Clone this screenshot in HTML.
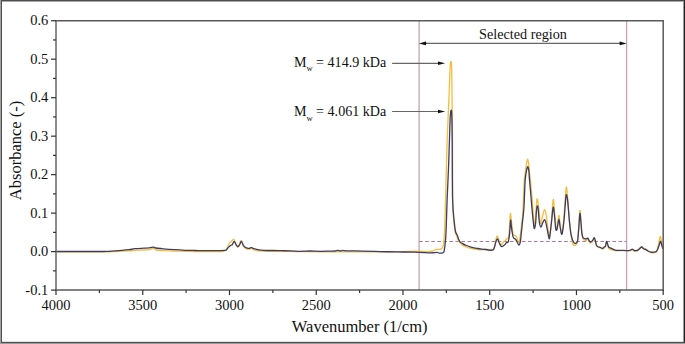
<!DOCTYPE html>
<html><head><meta charset="utf-8"><style>
html,body{margin:0;padding:0;background:#fff;}
body{width:685px;height:344px;overflow:hidden;}
svg{display:block;}
text{font-family:"Liberation Serif",serif;fill:#111;}
</style></head><body>
<svg width="685" height="344" viewBox="0 0 685 344">
<rect x="0" y="0" width="685" height="344" fill="#fff"/>
<!-- outer border -->
<rect x="0" y="0" width="685" height="1" fill="#4c4c4c"/>
<rect x="2" y="1" width="681" height="1" fill="#a8a8a8"/>
<rect x="0" y="0" width="1" height="344" fill="#a0a0a0"/>
<rect x="1" y="0" width="1" height="343" fill="#505050"/>
<rect x="683" y="1" width="1" height="341" fill="#9a9a9a"/>
<rect x="684" y="0" width="1" height="343" fill="#222"/>
<rect x="2" y="341" width="681" height="1" fill="#e0e0e0"/>
<rect x="1" y="342" width="684" height="1" fill="#505050"/>
<rect x="0" y="343" width="685" height="1" fill="#9a9a9a"/>
<!-- selected region verticals -->
<g stroke="#c9a0b4" stroke-width="1.3">
<line x1="419.1" y1="20.7" x2="419.1" y2="290.1"/>
<line x1="626.6" y1="20.7" x2="626.6" y2="290.1"/>
</g>
<line x1="419.2" y1="241.5" x2="626.6" y2="241.5" stroke="#ad6f8e" stroke-width="0.95" stroke-dasharray="3.6 2.44"/>
<!-- curves -->
<path d="M56.00,251.80 C63.33,251.82 90.23,251.92 100.00,251.90 C109.77,251.88 109.73,251.88 114.60,251.70 C119.47,251.52 125.80,251.03 129.20,250.80 C132.60,250.57 132.57,250.43 135.00,250.30 C137.43,250.17 141.40,250.10 143.80,250.00 C146.20,249.90 147.73,249.98 149.40,249.70 C151.07,249.42 152.70,248.25 153.80,248.30 C154.90,248.35 154.43,249.62 156.00,250.00 C157.57,250.38 160.17,250.42 163.20,250.60 C166.23,250.78 168.90,250.95 174.20,251.10 C179.50,251.25 188.12,251.43 195.00,251.50 C201.88,251.57 210.50,251.58 215.50,251.50 C220.50,251.42 222.92,251.92 225.00,251.00 C227.08,250.08 227.20,247.38 228.00,246.00 C228.80,244.62 229.20,243.48 229.80,242.70 C230.40,241.92 230.95,241.87 231.60,241.30 C232.25,240.73 233.05,239.10 233.70,239.30 C234.35,239.50 234.85,241.15 235.50,242.50 C236.15,243.85 236.93,247.15 237.60,247.40 C238.27,247.65 238.93,245.17 239.50,244.00 C240.07,242.83 240.50,240.48 241.00,240.40 C241.50,240.32 242.02,242.43 242.50,243.50 C242.98,244.57 243.32,245.95 243.90,246.80 C244.48,247.65 245.07,248.22 246.00,248.60 C246.93,248.98 248.62,249.15 249.50,249.10 C250.38,249.05 250.52,248.15 251.30,248.30 C252.08,248.45 253.03,249.57 254.20,250.00 C255.37,250.43 255.33,250.68 258.30,250.90 C261.27,251.12 265.05,251.17 272.00,251.30 C278.95,251.43 288.67,251.62 300.00,251.70 C311.33,251.78 326.67,251.77 340.00,251.80 C353.33,251.83 370.00,251.90 380.00,251.90 C390.00,251.90 394.73,251.90 400.00,251.80 C405.27,251.70 408.32,251.38 411.60,251.30 C414.88,251.22 416.98,251.23 419.70,251.30 C422.42,251.37 425.67,251.78 427.90,251.70 C430.13,251.62 431.72,251.18 433.10,250.80 C434.48,250.42 435.07,249.65 436.20,249.40 C437.33,249.15 438.93,249.50 439.90,249.30 C440.87,249.10 441.48,248.77 442.00,248.20 C442.52,247.63 442.70,246.90 443.00,245.90 C443.30,244.90 443.60,243.52 443.80,242.20 C444.00,240.88 444.03,240.87 444.20,238.00 C444.37,235.13 444.57,231.33 444.80,225.00 C445.03,218.67 445.35,209.17 445.60,200.00 C445.85,190.83 446.03,180.00 446.30,170.00 C446.57,160.00 446.88,149.17 447.20,140.00 C447.52,130.83 447.88,122.50 448.20,115.00 C448.52,107.50 448.83,101.67 449.10,95.00 C449.37,88.33 449.58,80.33 449.80,75.00 C450.02,69.67 450.22,65.15 450.40,63.00 C450.58,60.85 450.73,62.10 450.90,62.10 C451.07,62.10 451.25,60.85 451.40,63.00 C451.55,65.15 451.68,68.83 451.80,75.00 C451.92,81.17 452.00,90.83 452.10,100.00 C452.20,109.17 452.32,118.33 452.40,130.00 C452.48,141.67 452.57,158.67 452.60,170.00 C452.63,181.33 452.52,191.00 452.60,198.00 C452.68,205.00 452.82,207.33 453.10,212.00 C453.38,216.67 453.93,222.50 454.30,226.00 C454.67,229.50 454.92,231.43 455.30,233.00 C455.68,234.57 456.15,234.27 456.60,235.40 C457.05,236.53 457.43,238.57 458.00,239.80 C458.57,241.03 459.23,241.92 460.00,242.80 C460.77,243.68 461.55,244.40 462.60,245.10 C463.65,245.80 465.05,246.48 466.30,247.00 C467.55,247.52 468.20,247.75 470.10,248.20 C472.00,248.65 475.80,249.43 477.70,249.70 C479.60,249.97 480.23,249.88 481.50,249.80 C482.77,249.72 484.05,249.20 485.30,249.20 C486.55,249.20 487.75,249.72 489.00,249.80 C490.25,249.88 491.97,250.00 492.80,249.70 C493.63,249.40 493.62,249.02 494.00,248.00 C494.38,246.98 494.60,245.57 495.10,243.60 C495.60,241.63 496.43,236.95 497.00,236.20 C497.57,235.45 498.00,237.87 498.50,239.10 C499.00,240.33 499.50,242.72 500.00,243.60 C500.50,244.48 500.83,244.75 501.50,244.40 C502.17,244.05 503.15,242.37 504.00,241.50 C504.85,240.63 505.80,240.07 506.60,239.20 C507.40,238.33 508.30,238.67 508.80,236.30 C509.30,233.93 509.33,228.80 509.60,225.00 C509.87,221.20 510.10,214.17 510.40,213.50 C510.70,212.83 510.93,217.57 511.40,221.00 C511.87,224.43 512.55,231.68 513.20,234.10 C513.85,236.52 514.70,234.90 515.30,235.50 C515.90,236.10 516.23,236.57 516.80,237.70 C517.37,238.83 518.10,242.75 518.70,242.30 C519.30,241.85 519.92,238.05 520.40,235.00 C520.88,231.95 521.22,227.42 521.60,224.00 C521.98,220.58 522.45,217.17 522.70,214.50 C522.95,211.83 522.95,211.25 523.10,208.00 C523.25,204.75 523.40,199.67 523.60,195.00 C523.80,190.33 524.00,183.92 524.30,180.00 C524.60,176.08 525.02,174.33 525.40,171.50 C525.78,168.67 526.23,165.05 526.60,163.00 C526.97,160.95 527.27,159.20 527.60,159.20 C527.93,159.20 528.30,160.95 528.60,163.00 C528.90,165.05 529.10,168.67 529.40,171.50 C529.70,174.33 530.05,176.58 530.40,180.00 C530.75,183.42 531.17,188.40 531.50,192.00 C531.83,195.60 532.02,196.60 532.40,201.60 C532.78,206.60 533.40,218.12 533.80,222.00 C534.20,225.88 534.43,226.85 534.80,224.90 C535.17,222.95 535.63,214.62 536.00,210.30 C536.37,205.98 536.58,199.72 537.00,199.00 C537.42,198.28 537.93,201.93 538.50,206.00 C539.07,210.07 539.73,221.70 540.40,223.40 C541.07,225.10 541.83,218.47 542.50,216.20 C543.17,213.93 543.78,210.05 544.40,209.80 C545.02,209.55 545.67,211.95 546.20,214.70 C546.73,217.45 547.05,222.67 547.60,226.30 C548.15,229.93 548.88,237.22 549.50,236.50 C550.12,235.78 550.68,228.15 551.30,222.00 C551.92,215.85 552.65,201.27 553.20,199.60 C553.75,197.93 554.10,207.23 554.60,212.00 C555.10,216.77 555.73,225.87 556.20,228.20 C556.67,230.53 556.97,228.15 557.40,226.00 C557.83,223.85 558.33,215.47 558.80,215.30 C559.27,215.13 559.67,221.97 560.20,225.00 C560.73,228.03 561.37,235.00 562.00,233.50 C562.63,232.00 563.45,222.08 564.00,216.00 C564.55,209.92 564.92,201.87 565.30,197.00 C565.68,192.13 565.93,186.97 566.30,186.80 C566.67,186.63 567.07,191.57 567.50,196.00 C567.93,200.43 568.40,207.73 568.90,213.40 C569.40,219.07 570.07,225.93 570.50,230.00 C570.93,234.07 571.10,235.42 571.50,237.80 C571.90,240.18 572.18,243.08 572.90,244.30 C573.62,245.52 575.02,245.65 575.80,245.10 C576.58,244.55 577.12,243.85 577.60,241.00 C578.08,238.15 578.32,233.08 578.70,228.00 C579.08,222.92 579.53,211.83 579.90,210.50 C580.27,209.17 580.57,216.25 580.90,220.00 C581.23,223.75 581.53,229.92 581.90,233.00 C582.27,236.08 582.67,237.33 583.10,238.50 C583.53,239.67 583.93,239.67 584.50,240.00 C585.07,240.33 585.93,240.67 586.50,240.50 C587.07,240.33 587.27,238.60 587.90,239.00 C588.53,239.40 589.53,242.48 590.30,242.90 C591.07,243.32 591.82,242.23 592.50,241.50 C593.18,240.77 593.87,238.25 594.40,238.50 C594.93,238.75 595.17,241.67 595.70,243.00 C596.23,244.33 596.78,245.67 597.60,246.50 C598.42,247.33 599.75,247.58 600.60,248.00 C601.45,248.42 602.07,249.08 602.70,249.00 C603.33,248.92 603.93,247.92 604.40,247.50 C604.87,247.08 605.15,247.42 605.50,246.50 C605.85,245.58 606.15,242.33 606.50,242.00 C606.85,241.67 607.18,243.38 607.60,244.50 C608.02,245.62 607.97,247.73 609.00,248.70 C610.03,249.67 612.53,249.95 613.80,250.30 C615.07,250.65 615.32,250.75 616.60,250.80 C617.88,250.85 619.87,250.60 621.50,250.60 C623.13,250.60 625.00,250.78 626.40,250.80 C627.80,250.82 628.92,250.88 629.90,250.70 C630.88,250.52 631.58,249.62 632.30,249.70 C633.02,249.78 633.42,250.98 634.20,251.20 C634.98,251.42 636.18,251.30 637.00,251.00 C637.82,250.70 638.35,250.12 639.10,249.40 C639.85,248.68 640.75,246.87 641.50,246.70 C642.25,246.53 642.90,248.07 643.60,248.40 C644.30,248.73 644.95,248.23 645.70,248.70 C646.45,249.17 647.23,250.55 648.10,251.20 C648.97,251.85 649.97,252.32 650.90,252.60 C651.83,252.88 652.77,253.02 653.70,252.90 C654.63,252.78 655.85,252.63 656.50,251.90 C657.15,251.17 657.25,249.83 657.60,248.50 C657.95,247.17 658.27,245.57 658.60,243.90 C658.93,242.23 659.30,239.72 659.60,238.50 C659.90,237.28 660.10,236.28 660.40,236.60 C660.70,236.92 661.07,238.83 661.40,240.40 C661.73,241.97 662.13,244.73 662.40,246.00 C662.67,247.27 662.90,247.67 663.00,248.00" fill="none" stroke="#f5bd3e" stroke-width="1.3" stroke-linejoin="round"/>
<path d="M56.00,251.50 C60.00,251.50 72.67,251.50 80.00,251.50 C87.33,251.50 95.45,251.52 100.00,251.50 C104.55,251.48 104.87,251.52 107.30,251.40 C109.73,251.28 112.17,250.97 114.60,250.80 C117.03,250.63 119.47,250.58 121.90,250.40 C124.33,250.22 127.02,249.98 129.20,249.70 C131.38,249.42 132.57,248.95 135.00,248.70 C137.43,248.45 141.40,248.33 143.80,248.20 C146.20,248.07 147.73,248.08 149.40,247.90 C151.07,247.72 152.70,247.08 153.80,247.10 C154.90,247.12 154.43,247.72 156.00,248.00 C157.57,248.28 160.17,248.52 163.20,248.80 C166.23,249.08 170.55,249.45 174.20,249.70 C177.85,249.95 181.63,250.17 185.10,250.30 C188.57,250.43 191.75,250.45 195.00,250.50 C198.25,250.55 201.18,250.58 204.60,250.60 C208.02,250.62 212.10,250.63 215.50,250.60 C218.90,250.57 223.17,250.55 225.00,250.40 C226.83,250.25 225.88,250.25 226.50,249.70 C227.12,249.15 227.97,247.83 228.70,247.10 C229.43,246.37 230.30,245.72 230.90,245.30 C231.50,244.88 231.77,245.25 232.30,244.60 C232.83,243.95 233.47,241.37 234.10,241.40 C234.73,241.43 235.48,243.95 236.10,244.80 C236.72,245.65 237.22,246.50 237.80,246.50 C238.38,246.50 239.02,245.65 239.60,244.80 C240.18,243.95 240.72,241.40 241.30,241.40 C241.88,241.40 242.52,243.85 243.10,244.80 C243.68,245.75 244.12,246.55 244.80,247.10 C245.48,247.65 246.42,247.90 247.20,248.10 C247.98,248.30 248.82,248.42 249.50,248.30 C250.18,248.18 250.72,247.40 251.30,247.40 C251.88,247.40 252.13,247.98 253.00,248.30 C253.87,248.62 255.13,249.00 256.50,249.30 C257.87,249.60 259.45,249.90 261.20,250.10 C262.95,250.30 265.20,250.43 267.00,250.50 C268.80,250.57 269.83,250.47 272.00,250.50 C274.17,250.53 276.83,250.63 280.00,250.70 C283.17,250.77 287.67,250.80 291.00,250.90 C294.33,251.00 296.83,251.28 300.00,251.30 C303.17,251.32 306.67,251.00 310.00,251.00 C313.33,251.00 316.67,251.28 320.00,251.30 C323.33,251.32 327.50,251.15 330.00,251.10 C332.50,251.05 333.72,251.12 335.00,251.00 C336.28,250.88 336.78,250.40 337.70,250.40 C338.62,250.40 339.52,251.00 340.50,251.00 C341.48,251.00 342.68,250.43 343.60,250.40 C344.52,250.37 342.85,250.68 346.00,250.80 C349.15,250.92 356.83,250.97 362.50,251.10 C368.17,251.23 374.15,251.47 380.00,251.60 C385.85,251.73 391.77,251.80 397.60,251.90 C403.43,252.00 410.40,252.08 415.00,252.20 C419.60,252.32 422.62,252.48 425.20,252.60 C427.78,252.72 429.02,252.88 430.50,252.90 C431.98,252.92 433.05,252.78 434.10,252.70 C435.15,252.62 435.92,252.33 436.80,252.40 C437.68,252.47 438.53,252.98 439.40,253.10 C440.27,253.22 441.30,253.22 442.00,253.10 C442.70,252.98 443.22,252.92 443.60,252.40 C443.98,251.88 444.08,251.08 444.30,250.00 C444.52,248.92 444.67,247.90 444.90,245.90 C445.13,243.90 445.47,241.48 445.70,238.00 C445.93,234.52 446.07,231.33 446.30,225.00 C446.53,218.67 446.82,207.50 447.10,200.00 C447.38,192.50 447.72,186.67 448.00,180.00 C448.28,173.33 448.53,167.50 448.80,160.00 C449.07,152.50 449.35,142.33 449.60,135.00 C449.85,127.67 450.05,120.13 450.30,116.00 C450.55,111.87 450.85,110.37 451.10,110.20 C451.35,110.03 451.62,110.03 451.80,115.00 C451.98,119.97 452.12,130.83 452.20,140.00 C452.28,149.17 452.25,160.83 452.30,170.00 C452.35,179.17 452.37,188.42 452.50,195.00 C452.63,201.58 452.77,204.67 453.10,209.50 C453.43,214.33 454.10,220.33 454.50,224.00 C454.90,227.67 455.17,229.90 455.50,231.50 C455.83,233.10 456.15,232.83 456.50,233.60 C456.85,234.37 457.22,235.07 457.60,236.10 C457.98,237.13 458.35,238.80 458.80,239.80 C459.25,240.80 459.67,241.47 460.30,242.10 C460.93,242.73 461.60,243.03 462.60,243.60 C463.60,244.17 465.05,244.97 466.30,245.50 C467.55,246.03 468.83,246.42 470.10,246.80 C471.37,247.18 472.63,247.52 473.90,247.80 C475.17,248.08 476.43,248.28 477.70,248.50 C478.97,248.72 480.23,248.93 481.50,249.10 C482.77,249.27 484.05,249.35 485.30,249.50 C486.55,249.65 487.87,249.88 489.00,250.00 C490.13,250.12 491.33,250.32 492.10,250.20 C492.87,250.08 493.17,249.90 493.60,249.30 C494.03,248.70 494.33,247.80 494.70,246.60 C495.07,245.40 495.40,243.35 495.80,242.10 C496.20,240.85 496.72,239.48 497.10,239.10 C497.48,238.72 497.70,239.07 498.10,239.80 C498.50,240.53 498.92,242.37 499.50,243.50 C500.08,244.63 500.77,246.33 501.60,246.60 C502.43,246.87 503.68,245.80 504.50,245.10 C505.32,244.40 505.88,242.95 506.50,242.40 C507.12,241.85 507.68,243.28 508.20,241.80 C508.72,240.32 509.20,237.08 509.60,233.50 C510.00,229.92 510.30,221.42 510.60,220.30 C510.90,219.18 511.12,224.68 511.40,226.80 C511.68,228.92 511.98,231.22 512.30,233.00 C512.62,234.78 512.77,236.45 513.30,237.50 C513.83,238.55 514.90,238.63 515.50,239.30 C516.10,239.97 516.37,240.55 516.90,241.50 C517.43,242.45 518.13,244.92 518.70,245.00 C519.27,245.08 519.88,243.82 520.30,242.00 C520.72,240.18 520.82,237.60 521.20,234.10 C521.58,230.60 522.15,225.35 522.60,221.00 C523.05,216.65 523.58,212.33 523.90,208.00 C524.22,203.67 524.28,199.67 524.50,195.00 C524.72,190.33 524.90,183.92 525.20,180.00 C525.50,176.08 525.95,173.57 526.30,171.50 C526.65,169.43 527.00,168.35 527.30,167.60 C527.60,166.85 527.83,166.35 528.10,167.00 C528.37,167.65 528.67,169.33 528.90,171.50 C529.13,173.67 529.22,176.58 529.50,180.00 C529.78,183.42 530.25,187.92 530.60,192.00 C530.95,196.08 531.25,200.47 531.60,204.50 C531.95,208.53 532.33,212.57 532.70,216.20 C533.07,219.83 533.50,224.25 533.80,226.30 C534.10,228.35 534.20,228.98 534.50,228.50 C534.80,228.02 535.28,226.18 535.60,223.40 C535.92,220.62 536.13,214.70 536.40,211.80 C536.67,208.90 536.90,206.48 537.20,206.00 C537.50,205.52 537.85,206.23 538.20,208.90 C538.55,211.57 538.87,218.98 539.30,222.00 C539.73,225.02 540.27,226.77 540.80,227.00 C541.33,227.23 541.92,224.60 542.50,223.40 C543.08,222.20 543.77,220.03 544.30,219.80 C544.83,219.57 545.22,220.43 545.70,222.00 C546.18,223.57 546.72,226.78 547.20,229.20 C547.68,231.62 548.20,235.07 548.60,236.50 C549.00,237.93 549.12,240.20 549.60,237.80 C550.08,235.40 550.90,227.18 551.50,222.10 C552.10,217.02 552.68,208.17 553.20,207.30 C553.72,206.43 554.17,213.27 554.60,216.90 C555.03,220.53 555.38,227.07 555.80,229.10 C556.22,231.13 556.60,230.70 557.10,229.10 C557.60,227.50 558.28,219.78 558.80,219.50 C559.32,219.22 559.67,224.93 560.20,227.40 C560.73,229.87 561.37,235.47 562.00,234.30 C562.63,233.13 563.43,225.63 564.00,220.40 C564.57,215.17 565.02,207.20 565.40,202.90 C565.78,198.60 565.92,194.88 566.30,194.60 C566.68,194.32 567.20,196.90 567.70,201.20 C568.20,205.50 568.75,214.88 569.30,220.40 C569.85,225.92 570.28,230.67 571.00,234.30 C571.72,237.93 572.80,240.70 573.60,242.20 C574.40,243.70 575.13,243.55 575.80,243.30 C576.47,243.05 577.12,243.07 577.60,240.70 C578.08,238.33 578.32,233.63 578.70,229.10 C579.08,224.57 579.53,214.72 579.90,213.50 C580.27,212.28 580.57,218.48 580.90,221.80 C581.23,225.12 581.53,230.73 581.90,233.40 C582.27,236.07 582.67,236.95 583.10,237.80 C583.53,238.65 584.02,238.30 584.50,238.50 C584.98,238.70 585.47,239.07 586.00,239.00 C586.53,238.93 587.17,237.82 587.70,238.10 C588.23,238.38 588.72,240.02 589.20,240.70 C589.68,241.38 590.05,242.20 590.60,242.20 C591.15,242.20 591.87,241.43 592.50,240.70 C593.13,239.97 593.87,237.50 594.40,237.80 C594.93,238.10 595.37,241.25 595.70,242.50 C596.03,243.75 596.05,244.60 596.40,245.30 C596.75,246.00 597.10,246.33 597.80,246.70 C598.50,247.07 599.78,247.22 600.60,247.50 C601.42,247.78 602.07,248.53 602.70,248.40 C603.33,248.27 603.93,247.10 604.40,246.70 C604.87,246.30 605.15,246.88 605.50,246.00 C605.85,245.12 606.15,241.75 606.50,241.40 C606.85,241.05 607.25,242.97 607.60,243.90 C607.95,244.83 608.03,246.28 608.60,247.00 C609.17,247.72 610.13,247.77 611.00,248.20 C611.87,248.63 612.87,249.25 613.80,249.60 C614.73,249.95 615.32,250.18 616.60,250.30 C617.88,250.42 619.87,250.25 621.50,250.30 C623.13,250.35 625.00,250.58 626.40,250.60 C627.80,250.62 628.92,250.63 629.90,250.40 C630.88,250.17 631.58,249.18 632.30,249.20 C633.02,249.22 633.42,250.28 634.20,250.50 C634.98,250.72 636.18,250.73 637.00,250.50 C637.82,250.27 638.35,249.68 639.10,249.10 C639.85,248.52 640.75,247.07 641.50,247.00 C642.25,246.93 642.95,248.30 643.60,248.70 C644.25,249.10 644.65,249.02 645.40,249.40 C646.15,249.78 647.18,250.55 648.10,251.00 C649.02,251.45 649.97,251.90 650.90,252.10 C651.83,252.30 652.82,252.30 653.70,252.20 C654.58,252.10 655.50,252.08 656.20,251.50 C656.90,250.92 657.38,249.85 657.90,248.70 C658.42,247.55 658.88,245.87 659.30,244.60 C659.72,243.33 660.05,241.22 660.40,241.10 C660.75,240.98 661.07,242.85 661.40,243.90 C661.73,244.95 662.13,246.55 662.40,247.40 C662.67,248.25 662.90,248.73 663.00,249.00" fill="none" stroke="#3d3d64" stroke-width="1.3" stroke-linejoin="round"/>
<!-- axes -->
<g stroke="#5a5a5a" stroke-width="1.5" fill="none" stroke-linecap="square">
<line x1="56.0" y1="20.7" x2="663.2" y2="20.7"/>
<line x1="56.0" y1="290.1" x2="663.2" y2="290.1"/>
<line x1="663.2" y1="20.7" x2="663.2" y2="290.1"/>
</g>
<line x1="56.0" y1="20.7" x2="56.0" y2="290.1" stroke="#666" stroke-width="1.5"/>
<g stroke="#333" stroke-width="1.2">
<line x1="56.00" y1="290.1" x2="56.00" y2="295.1"/><line x1="99.37" y1="290.1" x2="99.37" y2="293.1"/><line x1="142.74" y1="290.1" x2="142.74" y2="295.1"/><line x1="186.11" y1="290.1" x2="186.11" y2="293.1"/><line x1="229.49" y1="290.1" x2="229.49" y2="295.1"/><line x1="272.86" y1="290.1" x2="272.86" y2="293.1"/><line x1="316.23" y1="290.1" x2="316.23" y2="295.1"/><line x1="359.60" y1="290.1" x2="359.60" y2="293.1"/><line x1="402.97" y1="290.1" x2="402.97" y2="295.1"/><line x1="446.34" y1="290.1" x2="446.34" y2="293.1"/><line x1="489.71" y1="290.1" x2="489.71" y2="295.1"/><line x1="533.09" y1="290.1" x2="533.09" y2="293.1"/><line x1="576.46" y1="290.1" x2="576.46" y2="295.1"/><line x1="619.83" y1="290.1" x2="619.83" y2="293.1"/><line x1="663.20" y1="290.1" x2="663.20" y2="295.1"/><line x1="51" y1="290.10" x2="56.0" y2="290.10"/><line x1="53" y1="270.86" x2="56.0" y2="270.86"/><line x1="51" y1="251.61" x2="56.0" y2="251.61"/><line x1="53" y1="232.37" x2="56.0" y2="232.37"/><line x1="51" y1="213.13" x2="56.0" y2="213.13"/><line x1="53" y1="193.89" x2="56.0" y2="193.89"/><line x1="51" y1="174.64" x2="56.0" y2="174.64"/><line x1="53" y1="155.40" x2="56.0" y2="155.40"/><line x1="51" y1="136.16" x2="56.0" y2="136.16"/><line x1="53" y1="116.91" x2="56.0" y2="116.91"/><line x1="51" y1="97.67" x2="56.0" y2="97.67"/><line x1="53" y1="78.43" x2="56.0" y2="78.43"/><line x1="51" y1="59.19" x2="56.0" y2="59.19"/><line x1="53" y1="39.94" x2="56.0" y2="39.94"/><line x1="51" y1="20.70" x2="56.0" y2="20.70"/>
</g>
<!-- tick labels -->
<g font-size="14.5">
<text x="56.00" y="309.6" text-anchor="middle">4000</text><text x="142.74" y="309.6" text-anchor="middle">3500</text><text x="229.49" y="309.6" text-anchor="middle">3000</text><text x="316.23" y="309.6" text-anchor="middle">2500</text><text x="402.97" y="309.6" text-anchor="middle">2000</text><text x="489.71" y="309.6" text-anchor="middle">1500</text><text x="576.46" y="309.6" text-anchor="middle">1000</text><text x="663.20" y="309.6" text-anchor="middle">500</text>
<text x="48.3" y="294.60" text-anchor="end">-0.1</text><text x="48.3" y="256.11" text-anchor="end">0.0</text><text x="48.3" y="217.63" text-anchor="end">0.1</text><text x="48.3" y="179.14" text-anchor="end">0.2</text><text x="48.3" y="140.66" text-anchor="end">0.3</text><text x="48.3" y="102.17" text-anchor="end">0.4</text><text x="48.3" y="63.69" text-anchor="end">0.5</text><text x="48.3" y="25.20" text-anchor="end">0.6</text>
</g>
<text x="359.7" y="332.2" font-size="16.5" text-anchor="middle">Wavenumber (1/cm)</text>
<text transform="translate(21.0,200.2) rotate(-90)" font-size="16.5">Absorbance (-)</text>
<!-- selected region arrow -->
<text x="523.05" y="39.3" font-size="14.2" text-anchor="middle">Selected region</text>
<line x1="425" y1="43.4" x2="620" y2="43.4" stroke="#666" stroke-width="1.1"/>
<path d="M418.9,43.4 L425.9,41.6 Q426.6,43.4 425.9,45.2 Z" fill="#111"/>
<path d="M626.7,43.4 L619.8,41.6 Q619.1,43.4 619.8,45.2 Z" fill="#111"/>
<!-- Mw annotations -->
<text x="293.9" y="66.5" font-size="14.1">M<tspan font-size="8.5" dy="4.7">w</tspan><tspan dy="-4.7"> = 414.9 kDa</tspan></text>
<text x="293.9" y="115.9" font-size="14.1">M<tspan font-size="8.5" dy="4.7">w</tspan><tspan dy="-4.7"> = 4.061 kDa</tspan></text>
<line x1="392.1" y1="63.35" x2="439" y2="63.35" stroke="#666" stroke-width="1.1"/>
<path d="M445.2,63.35 L438,61.6 L438,65.1 Z" fill="#111"/>
<line x1="392.1" y1="111.5" x2="439" y2="111.5" stroke="#666" stroke-width="1.1"/>
<path d="M445.2,111.5 L438,109.75 L438,113.25 Z" fill="#111"/>
</svg>
</body></html>
